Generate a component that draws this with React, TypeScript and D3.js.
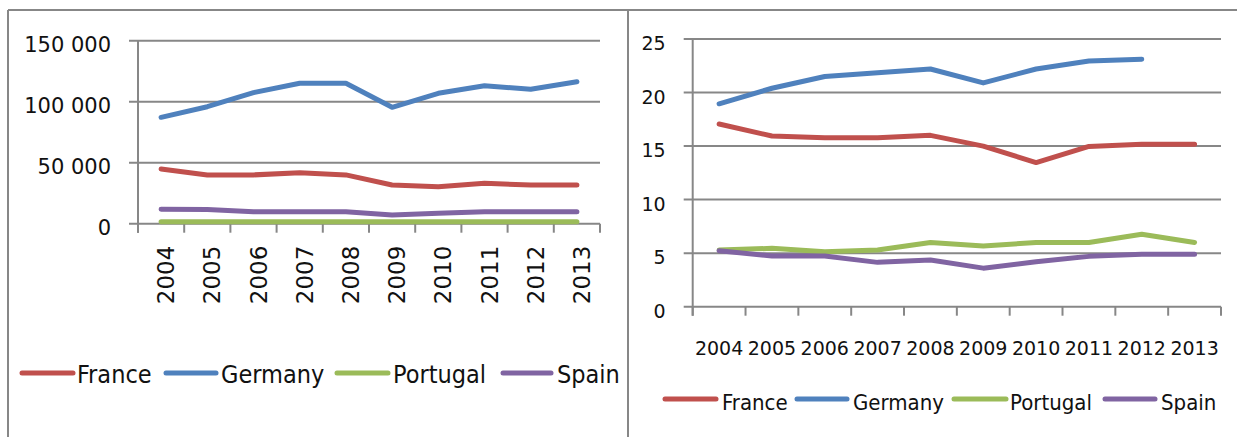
import React from "react";
import * as d3 from "d3";

const years = ["2004", "2005", "2006", "2007", "2008", "2009", "2010", "2011", "2012", "2013"];
const seriesNames = ["France", "Germany", "Portugal", "Spain"];
const seriesColors = ["#C0504D", "#4F81BD", "#9BBB59", "#8064A2"];

// Left chart: absolute values
const franceAbs = [44800, 40000, 40000, 41800, 40000, 31700, 30300, 33100, 31700, 31700];
const germanyAbs = [87200, 95900, 107400, 115100, 115100, 95400, 106900, 113100, 110200, 116400];
const portugalAbs = [1600, 1600, 1600, 1600, 1600, 1600, 1600, 1600, 1600, 1600];
const spainAbs = [11800, 11600, 9800, 9800, 9800, 7100, 8500, 9800, 9800, 9800];
const leftTicks = [0, 50000, 100000, 150000];
const leftTickLabels = ["0", "50 000", "100 000", "150 000"];

// Right chart: percentages
const francePct = [17.06, 15.94, 15.78, 15.78, 16.0, 15.0, 13.46, 14.97, 15.18, 15.18];
const germanyPct: (number | null)[] = [18.95, 20.4, 21.5, 21.85, 22.2, 20.9, 22.2, 22.94, 23.12, null];
const portugalPct = [5.3, 5.45, 5.14, 5.3, 6.0, 5.67, 6.0, 6.0, 6.77, 6.0];
const spainPct = [5.23, 4.73, 4.73, 4.14, 4.36, 3.6, 4.2, 4.7, 4.9, 4.9];
const rightTicks = [0, 5, 10, 15, 20, 25];

const GRID = "#878787";

type Series = { name: string; color: string; values: (number | null)[] };

function LineChart(props: {
  x0: number; x1: number; y0: number; y1: number; max: number;
  ticks: number[]; tickLabels: string[]; series: Series[];
  rotated: boolean; yFont: number; xFont: number;
}) {
  const { x0, x1, y0, y1, max, ticks, tickLabels, series, rotated, yFont, xFont } = props;
  const xb = d3.scaleBand<string>().domain(years).range([x0, x1]).padding(0);
  const y = d3.scaleLinear().domain([0, max]).range([y0, y1]);
  const line = d3
    .line<number | null>()
    .defined((d) => d !== null)
    .x((_, i) => (xb(years[i]) as number) + xb.bandwidth() / 2)
    .y((d) => y(d as number));
  const boundaries = years.map((yr) => xb(yr) as number).concat([x1]);
  return (
    <g>
      {ticks.map((t, i) => (
        <g key={"g" + t}>
          <line x1={x0 - 9} x2={x1} y1={y(t)} y2={y(t)} stroke={GRID} strokeWidth={2} />
          <text
            x={x0 - 27}
            y={y(t) + 4}
            textAnchor="end"
            dominantBaseline="central"
            fontFamily="DejaVu Sans"
            fontSize={yFont}
            fill="#111"
          >
            {tickLabels[i]}
          </text>
        </g>
      ))}
      <line x1={x0} x2={x0} y1={y1} y2={y0 + 9} stroke={GRID} strokeWidth={2} />
      {boundaries.map((b, i) => (
        <line key={"t" + i} x1={b} x2={b} y1={y0} y2={y0 + 9} stroke={GRID} strokeWidth={2} />
      ))}
      {years.map((yr) => {
        const cx = (xb(yr) as number) + xb.bandwidth() / 2;
        return rotated ? (
          <text
            key={"x" + yr}
            transform={`translate(${cx + 5},${y0 + 22}) rotate(-90)`}
            textAnchor="end"
            dominantBaseline="central"
            fontFamily="DejaVu Sans"
            fontSize={xFont}
            fill="#111"
          >
            {yr}
          </text>
        ) : (
          <text
            key={"x" + yr}
            x={cx}
            y={y0 + 48}
            textAnchor="middle"
            fontFamily="DejaVu Sans"
            fontSize={xFont}
            fill="#111"
          >
            {yr}
          </text>
        );
      })}
      {series.map((s) => (
        <path
          key={s.name}
          d={line(s.values) as string}
          fill="none"
          stroke={s.color}
          strokeWidth={5}
          strokeLinecap="round"
          strokeLinejoin="round"
        />
      ))}
    </g>
  );
}

function Legend(props: { items: { lx0: number; lx1: number; tx: number }[]; y: number; base: number; font: number }) {
  const { items, y, base, font } = props;
  return (
    <g>
      {items.map((it, i) => (
        <g key={seriesNames[i]}>
          <line x1={it.lx0} x2={it.lx1} y1={y} y2={y} stroke={seriesColors[i]} strokeWidth={5} strokeLinecap="round" />
          <text x={it.tx} y={base} fontFamily="DejaVu Sans Condensed" fontSize={font} fill="#111">
            {seriesNames[i]}
          </text>
        </g>
      ))}
    </g>
  );
}

export default function App() {
  const leftSeries: Series[] = [
    { name: seriesNames[0], color: seriesColors[0], values: franceAbs },
    { name: seriesNames[1], color: seriesColors[1], values: germanyAbs },
    { name: seriesNames[2], color: seriesColors[2], values: portugalAbs },
    { name: seriesNames[3], color: seriesColors[3], values: spainAbs },
  ];
  const rightSeries: Series[] = [
    { name: seriesNames[0], color: seriesColors[0], values: francePct },
    { name: seriesNames[1], color: seriesColors[1], values: germanyPct },
    { name: seriesNames[2], color: seriesColors[2], values: portugalPct },
    { name: seriesNames[3], color: seriesColors[3], values: spainPct },
  ];
  return (
    <svg
      width={1237}
      height={437}
      style={{ position: "absolute", left: 0, top: 0, background: "#fff" }}
    >
      <rect x={0} y={0} width={1237} height={437} fill="#fff" />
      <line x1={8} x2={1237} y1={10} y2={10} stroke={GRID} strokeWidth={2} />
      <line x1={8} x2={8} y1={10} y2={437} stroke={GRID} strokeWidth={2} />
      <line x1={628} x2={628} y1={10} y2={437} stroke={GRID} strokeWidth={2} />
      <defs>
        <clipPath id="leftClip">
          <rect x={9} y={11} width={618} height={426} />
        </clipPath>
      </defs>
      <g clipPath="url(#leftClip)">
        <LineChart
          x0={138} x1={600} y0={223.7} y1={40.7} max={150000}
          ticks={leftTicks} tickLabels={leftTickLabels} series={leftSeries}
          rotated={true} yFont={21} xFont={23}
        />
        <Legend
          y={373} base={383} font={25}
          items={[
            { lx0: 22, lx1: 73, tx: 77 },
            { lx0: 166, lx1: 216, tx: 221 },
            { lx0: 337, lx1: 388, tx: 393 },
            { lx0: 503, lx1: 551, tx: 557 },
          ]}
        />
      </g>
      <LineChart
        x0={692.7} x1={1221} y0={306.7} y1={39} max={25}
        ticks={rightTicks} tickLabels={rightTicks.map(String)} series={rightSeries}
        rotated={false} yFont={19} xFont={19}
      />
      <Legend
        y={399} base={410} font={22}
        items={[
          { lx0: 665, lx1: 716, tx: 722 },
          { lx0: 797, lx1: 847, tx: 853 },
          { lx0: 954, lx1: 1006, tx: 1010 },
          { lx0: 1105, lx1: 1155, tx: 1161 },
        ]}
      />
    </svg>
  );
}
